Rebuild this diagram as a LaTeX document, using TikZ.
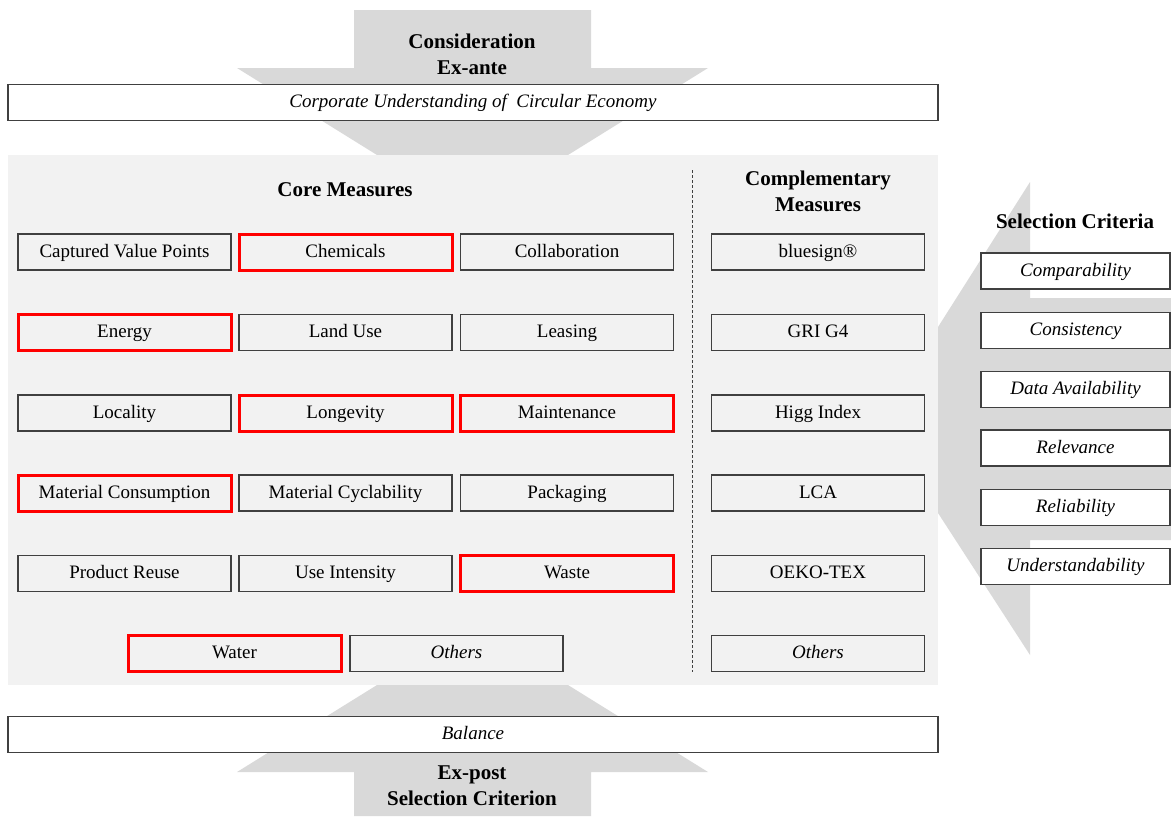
\documentclass[tikz,border=0pt]{standalone}
\usepackage{fontspec}
\setmainfont{Liberation Serif}
\definecolor{arrowgray}{HTML}{D9D9D9}
\definecolor{panelgray}{HTML}{F2F2F2}
\definecolor{boxline}{HTML}{404040}
\begin{document}
\begin{tikzpicture}[x=0.5pt,y=-0.5pt,
  arrowshape/.style={fill=arrowgray, draw=none},
  mbox/.style={draw=boxline, line width=0.6pt, minimum width=106.5pt, minimum height=18pt, inner sep=0pt, text height=1.6ex, text depth=0.45ex, font=\fontsize{9.5}{11}\selectfont},
  redbox/.style={mbox, draw=red, line width=1.5pt},
  itbox/.style={mbox, font=\fontsize{9.5}{11}\selectfont\itshape},
  critbox/.style={itbox, fill=white, minimum width=94.5pt},
  widebox/.style={draw=boxline, line width=0.6pt, fill=white, minimum width=465pt, minimum height=18pt, inner sep=0pt, text height=1.6ex, text depth=0.45ex, font=\fontsize{9.5}{11}\selectfont\itshape},
  heading/.style={font=\bfseries\fontsize{10.5}{13}\selectfont, align=center, inner sep=0pt}
]
\useasboundingbox (0,0) rectangle (1171,816);
% top arrow
\fill[arrowshape] (354,10) -- (591,10) -- (591,68) -- (708,68) -- (568,155) -- (377,155) -- (237,68) -- (354,68) -- cycle;
% panel
\fill[panelgray] (8,155) rectangle (938,685);
% right arrow
\fill[arrowshape] (1171,298) -- (1030,298) -- (1030,182) -- (938,327) -- (938,513) -- (1030,655) -- (1030,540) -- (1171,540) -- cycle;
% bottom arrow
\fill[arrowshape] (354,816) -- (354,772) -- (237,772) -- (377,685) -- (568,685) -- (708,772) -- (591,772) -- (591,816) -- cycle;

\node[heading] (exante) at (472,54) {Consideration\\Ex-ante};
\node[widebox] (cue) at (473,102.5) {Corporate Understanding of\ \ Circular Economy};
\node[widebox] (bal) at (473,734.5) {Balance};
\node[heading] (expost) at (472,786) {Ex-post\\Selection Criterion};

\node[heading] (core) at (345,190) {Core Measures};
\node[heading] (comp) at (818,191) {Complementary\\Measures};
\node[heading] (selc) at (1075,221) {Selection Criteria};

\draw[boxline, line width=0.5pt, dash pattern=on 1.5pt off 1pt] (692,170) coordinate (dtop) -- (692,672) coordinate (dbot);

% core measures
\node[mbox]   (cvp)  at (124.5,252) {Captured Value Points};
\node[redbox] (chem) at (345.5,252) {Chemicals};
\node[mbox]   (coll) at (567,252) {Collaboration};
\node[redbox] (ener) at (124.5,332.5) {Energy};
\node[mbox]   (land) at (345.5,332.5) {Land Use};
\node[mbox]   (leas) at (567,332.5) {Leasing};
\node[mbox]   (loca) at (124.5,413) {Locality};
\node[redbox] (long) at (345.5,413) {Longevity};
\node[redbox] (main) at (567,413) {Maintenance};
\node[redbox] (matc) at (124.5,493) {Material Consumption};
\node[mbox]   (macy) at (345.5,493) {Material Cyclability};
\node[mbox]   (pack) at (567,493) {Packaging};
\node[mbox]   (prre) at (124.5,573.5) {Product Reuse};
\node[mbox]   (usei) at (345.5,573.5) {Use Intensity};
\node[redbox] (wast) at (567,573.5) {Waste};
\node[redbox] (watr) at (234.5,653.5) {Water};
\node[itbox]  (oth1) at (456.5,653.5) {Others};

% complementary
\node[mbox]  (blue) at (818,252) {bluesign®};
\node[mbox]  (gri)  at (818,332.5) {GRI G4};
\node[mbox]  (higg) at (818,413) {Higg Index};
\node[mbox]  (lca)  at (818,493) {LCA};
\node[mbox]  (oeko) at (818,573.5) {OEKO-TEX};
\node[itbox] (oth2) at (818,653.5) {Others};

% selection criteria
\node[critbox] (c1) at (1075.5,271) {Comparability};
\node[critbox] (c2) at (1075.5,330.5) {Consistency};
\node[critbox] (c3) at (1075.5,389.5) {Data Availability};
\node[critbox] (c4) at (1075.5,448) {Relevance};
\node[critbox] (c5) at (1075.5,507.5) {Reliability};
\node[critbox] (c6) at (1075.5,566.5) {Understandability};
\end{tikzpicture}
\end{document}
